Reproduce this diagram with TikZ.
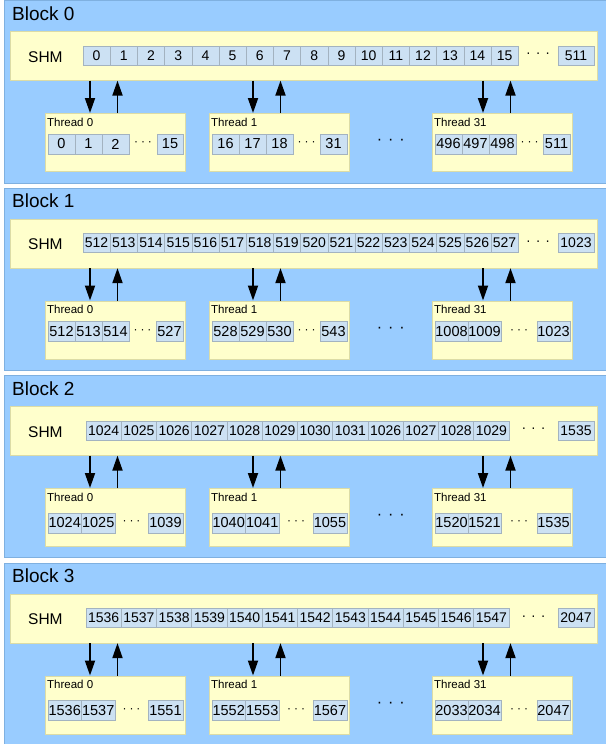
\documentclass[tikz,border=0pt]{standalone}
\usepackage{fontspec}
\setmainfont{Liberation Sans}
\usetikzlibrary{arrows.meta}

\definecolor{blockblue}{HTML}{99CCFF}
\definecolor{blockline}{HTML}{7FB0E0}
\definecolor{shmyellow}{HTML}{FFFFCC}
\definecolor{shmline}{HTML}{DCDCA6}
\definecolor{cellblue}{HTML}{CCE1F3}
\definecolor{cellline}{HTML}{A3B3C0}

\tikzset{
  blockbox/.style={fill=blockblue, draw=blockline, line width=0.8pt, inner sep=0pt},
  blocklbl/.style={inner sep=0pt, font=\fontsize{19}{20}\selectfont},
  panel/.style={fill=shmyellow, draw=shmline, line width=0.6pt, inner sep=0pt},
  shmcell/.style={fill=cellblue, draw=cellline, line width=0.6pt, inner sep=0pt,
    minimum height=19pt, font=\fontsize{14}{15}\selectfont},
  thrcell/.style={shmcell, minimum height=20pt, font=\fontsize{14.5}{15}\selectfont},
  thrlbl/.style={inner sep=0pt, font=\fontsize{11.5}{12}\selectfont},
  middots/.style={inner sep=0pt, font=\fontsize{16}{16}\selectfont},
  arr/.style={-{Triangle[length=15pt,width=10pt]}, line width=1.8pt},
}

\newcommand\dotsrow[1]{·\hspace{#1}·\hspace{#1}·}

% shared memory row: name, first x, cell width, values, last value
\newcommand\shmrow[5]{%
  \def\curshm{#1}
  \node[panel, anchor=north west, minimum width=587pt, minimum height=49pt] (#1) at (10,31) {};
  \node[anchor=base west, inner sep=0pt, font=\fontsize{15.5}{16}\selectfont] (#1-lbl) at (28,62) {SHM};
  \foreach \v [count=\i] in {#4} {
    \node[shmcell, minimum width=#3pt] (#1-\i) at ({#2+(\i-0.5)*#3},55.5) {\v};
    \xdef\nfirst{\i}
  }
  \node[shmcell, minimum width=36pt] (#1-last) at (576,55.5) {#5};
  \path (#1-\nfirst.east) -- (#1-last.west) node[midway, inner sep=0pt, font=\fontsize{14}{14}\selectfont] (#1-dots) {\dotsrow{5pt}};
}

% thread box: name, left x, number, cell width, values, last value, last width, arrow x
\newcommand\thread[8]{%
  \node[panel, anchor=north west, minimum width=140pt, minimum height=58pt] (#1) at (#2,113) {};
  \node[thrlbl, anchor=base west] (#1-lbl) at (#2+2,126) {Thread #3};
  \foreach \v [count=\i] in {#5} {
    \node[thrcell, minimum width=#4pt] (#1-\i) at ({#2+3+(\i-0.5)*#4},\cy) {\v};
    \xdef\nfirst{\i}
  }
  \node[thrcell, minimum width=#7pt] (#1-last) at ({#2+138-#7/2},\cy) {#6};
  \path (#1-\nfirst.east) -- (#1-last.west) node[midway, inner sep=0pt, font=\fontsize{12}{12}\selectfont] (#1-dots) {\dotsrow{3pt}};
  \coordinate (#1-in) at (#2+#8,113);
  \coordinate (#1-out) at (#2+#8+27.5,113);
  \draw[arr] (\curshm.south -| #1-in) -- (#1-in);
  \draw[arr] (#1-out) -- (\curshm.south -| #1-out);
}

\begin{document}
\begin{tikzpicture}[x=1pt,y=-1pt]
\useasboundingbox (0,0) rectangle (605,744);

% block 0
\begin{scope}[shift={(0,0)}]
\def\cy{144}
\node[blockbox, anchor=north west, minimum width=606pt, minimum height=182pt] (blk0) at (4,0.5) {};
\node[blocklbl, anchor=base west] (blk0-lbl) at (12,20) {Block 0};
\shmrow{shm0}{83}{27.2}{0,...,15}{511}
\thread{t0a}{45}{0}{27}{0,1,2}{15}{26}{45}
\thread{t0b}{209}{1}{27}{16,17,18}{31}{27}{44}
\thread{t0c}{432}{31}{27}{496,497,498}{511}{27}{51}
\path (t0b) -- (t0c) node[midway, middots] (dots0) {\dotsrow{6pt}};
\end{scope}

% block 1
\begin{scope}[shift={(0,187.5)}]
\def\cy{144}
\node[blockbox, anchor=north west, minimum width=606pt, minimum height=182pt] (blk1) at (4,0) {};
\node[blocklbl, anchor=base west] (blk1-lbl) at (12,20) {Block 1};
\shmrow{shm1}{83}{27.2}{512,...,527}{1023}
\thread{t1a}{45}{0}{27}{512,513,514}{527}{27}{45}
\thread{t1b}{209}{1}{27}{528,529,530}{543}{27}{44}
\thread{t1c}{432}{31}{33}{1008,1009}{1023}{33}{51}
\path (t1b) -- (t1c) node[midway, middots] (dots1) {\dotsrow{6pt}};
\end{scope}

% block 2
\begin{scope}[shift={(0,375)}]
\def\cy{148}
\node[blockbox, anchor=north west, minimum width=606pt, minimum height=182pt] (blk2) at (4,0) {};
\node[blocklbl, anchor=base west] (blk2-lbl) at (12,20) {Block 2};
\shmrow{shm2}{86}{35.25}{1024,1025,1026,1027,1028,1029,1030,1031,1026,1027,1028,1029}{1535}
\thread{t2a}{45}{0}{33.5}{1024,1025}{1039}{35}{45}
\thread{t2b}{209}{1}{33.5}{1040,1041}{1055}{34}{44}
\thread{t2c}{432}{31}{33}{1520,1521}{1535}{33}{51}
\path (t2b) -- (t2c) node[midway, middots] (dots2) {\dotsrow{6pt}};
\end{scope}

% block 3
\begin{scope}[shift={(0,562.5)}]
\def\cy{148}
\node[blockbox, anchor=north west, minimum width=606pt, minimum height=182pt] (blk3) at (4,0) {};
\node[blocklbl, anchor=base west] (blk3-lbl) at (12,20) {Block 3};
\shmrow{shm3}{86}{35.25}{1536,...,1547}{2047}
\thread{t3a}{45}{0}{33.5}{1536,1537}{1551}{35}{45}
\thread{t3b}{209}{1}{33.5}{1552,1553}{1567}{34}{44}
\thread{t3c}{432}{31}{33}{2033,2034}{2047}{33}{51}
\path (t3b) -- (t3c) node[midway, middots] (dots3) {\dotsrow{6pt}};
\end{scope}
\end{tikzpicture}
\end{document}
